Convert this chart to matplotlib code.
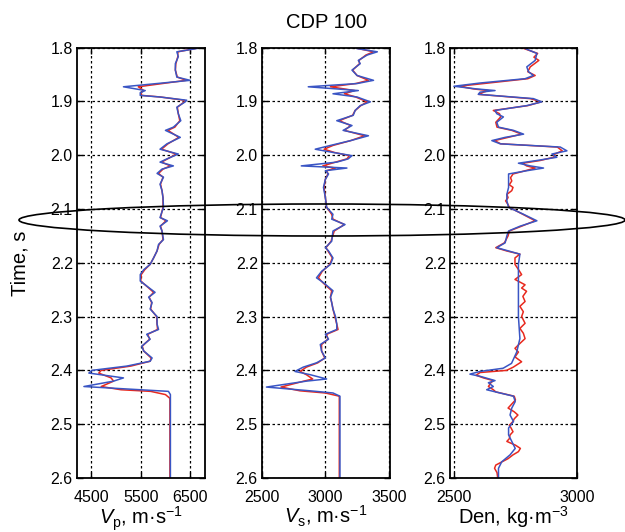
# CDP 100 - log comparison (Vp, Vs, Den)
import matplotlib
matplotlib.use('Agg')
import matplotlib.pyplot as plt
from matplotlib.patches import Ellipse

plt.rcParams['font.family'] = ['Liberation Sans', 'DejaVu Sans']
plt.rcParams['mathtext.fontset'] = 'custom'
plt.rcParams['mathtext.rm'] = 'Liberation Sans'
plt.rcParams['mathtext.it'] = 'Liberation Sans:italic'

# Vp
vp_t = [1.802, 1.808, 1.817, 1.830, 1.842, 1.855, 1.861, 1.873, 1.880, 1.884, 1.889, 1.892,
        1.898, 1.901, 1.911, 1.923, 1.936, 1.948, 1.954, 1.967, 1.979, 1.989, 1.998, 2.007,
        2.013, 2.020, 2.026, 2.034, 2.041, 2.054, 2.066, 2.079, 2.097, 2.116, 2.122, 2.132,
        2.141, 2.157, 2.166, 2.178, 2.191, 2.203, 2.213, 2.222, 2.234, 2.246, 2.255, 2.264,
        2.274, 2.286, 2.300, 2.314, 2.324, 2.333, 2.342, 2.355, 2.364, 2.377, 2.383, 2.392,
        2.400, 2.405, 2.414, 2.420, 2.430, 2.436, 2.439, 2.445, 2.452, 2.600]
vp_blue = [6630, 6230, 6260, 6200, 6200, 6230, 6500, 5150, 5590, 5490, 5490, 5890,
           6430, 6400, 6230, 6260, 6310, 6160, 6000, 6300, 6030, 5890, 6260, 6030,
           5890, 6160, 5930, 5830, 5960, 5890, 5930, 5950, 5960, 5890, 6040, 5890,
           5930, 5960, 5860, 5830, 5760, 5690, 5560, 5490, 5490, 5660, 5790, 5660,
           5730, 5690, 5830, 5830, 5860, 5620, 5690, 5520, 5560, 5730, 5690, 5220,
           4510, 4450, 5150, 4950, 4350, 5490, 6060, 6100, 6100, 6100]
vp_red = [6600, 6250, 6250, 6210, 6200, 6240, 6420, 5450, 5560, 5500, 5520, 5900,
          6380, 6380, 6240, 6260, 6290, 6190, 6050, 6270, 6050, 5920, 6220, 6040,
          5920, 6100, 5950, 5860, 5950, 5900, 5930, 5950, 5950, 5900, 6010, 5900,
          5930, 5950, 5870, 5830, 5760, 5690, 5580, 5510, 5500, 5650, 5760, 5670,
          5720, 5700, 5820, 5830, 5840, 5640, 5680, 5530, 5560, 5710, 5690, 5300,
          4700, 4650, 4900, 4950, 4700, 5100, 5700, 6000, 6090, 6090]

# Vs
vs_t = [1.802, 1.808, 1.814, 1.824, 1.830, 1.842, 1.852, 1.861, 1.867, 1.873, 1.880, 1.886,
        1.892, 1.901, 1.908, 1.917, 1.926, 1.936, 1.945, 1.954, 1.964, 1.973, 1.982, 1.989,
        1.995, 2.001, 2.007, 2.013, 2.020, 2.024, 2.029, 2.035, 2.045, 2.060, 2.079, 2.097,
        2.110, 2.119, 2.129, 2.141, 2.160, 2.172, 2.178, 2.191, 2.203, 2.216, 2.228, 2.237,
        2.252, 2.264, 2.274, 2.286, 2.300, 2.314, 2.324, 2.333, 2.342, 2.352, 2.364, 2.377,
        2.386, 2.394, 2.402, 2.408, 2.416, 2.420, 2.431, 2.438, 2.442, 2.448, 2.600]
vs_blue = [3250, 3410, 3330, 3260, 3275, 3210, 3250, 3380, 3250, 2865, 3260, 3060,
           3250, 3355, 3275, 3235, 3220, 3090, 3210, 3140, 3340, 3200, 3040, 2920,
           3060, 3210, 3180, 3090, 2810, 3170, 3000, 3025, 3000, 2985, 3000, 3010,
           3060, 3050, 3155, 3060, 3050, 3000, 3025, 3060, 3040, 2970, 2930, 2985,
           3060, 3040, 3050, 3060, 3080, 3090, 3090, 3000, 3025, 2960, 2970, 3000,
           2930, 2825, 2760, 2880, 3010, 2850, 2535, 2880, 3060, 3115, 3115]
vs_red = [3260, 3380, 3320, 3265, 3270, 3215, 3250, 3340, 3240, 3040, 3230, 3150,
          3240, 3330, 3280, 3235, 3215, 3110, 3200, 3150, 3310, 3200, 3060, 2990,
          3070, 3190, 3170, 3080, 2980, 3080, 3010, 3020, 3000, 2990, 3000, 3010,
          3050, 3060, 3150, 3070, 3045, 3005, 3020, 3055, 3035, 2975, 2945, 2980,
          3050, 3040, 3050, 3060, 3075, 3090, 3100, 3010, 3020, 2970, 2970, 2995,
          2940, 2850, 2800, 2850, 2900, 2830, 2650, 2800, 3000, 3110, 3110]

# Density
den_t = [1.802, 1.811, 1.824, 1.836, 1.845, 1.852, 1.858, 1.866, 1.872, 1.877, 1.880, 1.883,
         1.887, 1.895, 1.901, 1.908, 1.917, 1.923, 1.929, 1.939, 1.948, 1.954, 1.961, 1.967,
         1.973, 1.979, 1.985, 1.992, 1.998, 2.004, 2.010, 2.015, 2.020, 2.024, 2.029, 2.035,
         2.048, 2.060, 2.073, 2.085, 2.097, 2.110, 2.122, 2.132, 2.141, 2.150, 2.163, 2.172,
         2.184, 2.203, 2.241, 2.272, 2.300, 2.341, 2.366, 2.387, 2.396, 2.402, 2.407, 2.411,
         2.419, 2.423, 2.430, 2.436, 2.439, 2.448, 2.458, 2.470, 2.483, 2.495, 2.507, 2.520,
         2.532, 2.545, 2.557, 2.570, 2.582, 2.600]
den_blue = [2790, 2837, 2830, 2796, 2803, 2823, 2789, 2606, 2500, 2592, 2667, 2606,
            2599, 2823, 2857, 2796, 2667, 2674, 2701, 2674, 2681, 2742, 2783, 2708,
            2654, 2688, 2932, 2959, 2898, 2918, 2837, 2762, 2810, 2864, 2796, 2722,
            2722, 2722, 2715, 2715, 2722, 2783, 2837, 2769, 2722, 2715, 2708, 2674,
            2768, 2762, 2762, 2762, 2762, 2768, 2755, 2734, 2700, 2606, 2565, 2606,
            2667, 2640, 2660, 2633, 2660, 2742, 2749, 2735, 2728, 2742, 2722, 2722,
            2735, 2749, 2728, 2694, 2681, 2681]
den_red_t = [1.802, 1.811, 1.818, 1.824, 1.836, 1.845, 1.852, 1.858, 1.866, 1.872, 1.877, 1.880,
             1.883, 1.887, 1.895, 1.901, 1.908, 1.917, 1.923, 1.929, 1.939, 1.948, 1.954, 1.961,
             1.967, 1.973, 1.979, 1.985, 1.992, 1.998, 2.004, 2.010, 2.015, 2.020, 2.024, 2.029,
             2.035, 2.042, 2.048, 2.055, 2.060, 2.066, 2.073, 2.079, 2.085, 2.092, 2.097, 2.110,
             2.122, 2.132, 2.141, 2.150, 2.163, 2.172, 2.178, 2.184, 2.191, 2.203, 2.2125, 2.222,
             2.231, 2.241, 2.247, 2.253, 2.2625, 2.272, 2.281, 2.291, 2.300, 2.3125, 2.322, 2.331,
             2.341, 2.350, 2.359, 2.366, 2.375, 2.384, 2.394, 2.400, 2.404, 2.409, 2.414, 2.419,
             2.423, 2.430, 2.436, 2.440, 2.448, 2.455, 2.461, 2.470, 2.477, 2.483, 2.490, 2.495,
             2.502, 2.507, 2.514, 2.520, 2.527, 2.532, 2.539, 2.545, 2.551, 2.557, 2.564, 2.570,
             2.576, 2.582, 2.590, 2.600]
den_red = [2785, 2840, 2825, 2845, 2810, 2800, 2830, 2800, 2640, 2520, 2580, 2640,
           2620, 2600, 2810, 2855, 2800, 2660, 2685, 2690, 2670, 2675, 2735, 2775,
           2720, 2665, 2690, 2920, 2940, 2910, 2905, 2850, 2780, 2795, 2830, 2790,
           2740, 2730, 2735, 2725, 2740, 2735, 2715, 2720, 2710, 2720, 2725, 2780,
           2830, 2775, 2725, 2720, 2705, 2670, 2714, 2768, 2748, 2748, 2762, 2775,
           2748, 2789, 2775, 2795, 2780, 2789, 2768, 2782, 2775, 2789, 2768, 2782,
           2789, 2768, 2748, 2762, 2748, 2775, 2741, 2714, 2606, 2590, 2620, 2660,
           2650, 2640, 2660, 2670, 2745, 2750, 2738, 2720, 2745, 2760, 2745, 2740,
           2725, 2732, 2740, 2728, 2725, 2715, 2750, 2770, 2762, 2740, 2720, 2695,
           2670, 2665, 2675, 2678]

y_ticks = [1.8, 1.9, 2.0, 2.1, 2.2, 2.3, 2.4, 2.5, 2.6]

W, H = 625, 532
fig = plt.figure(figsize=(W / 100, H / 100), dpi=100)

def px_axes(left, right, top=47.5, bottom=478):
    return fig.add_axes([left / W, 1 - bottom / H, (right - left) / W, (bottom - top) / H])

ax1 = px_axes(77, 205)
ax2 = px_axes(262, 390)
ax3 = px_axes(450, 577)

red = '#e8291e'
blue = '#3a55c4'

ax1.plot(vp_red, vp_t, color=red, lw=1.1)
ax1.plot(vp_blue, vp_t, color=blue, lw=1.1)
ax2.plot(vs_red, vs_t, color=red, lw=1.1)
ax2.plot(vs_blue, vs_t, color=blue, lw=1.1)
ax3.plot(den_red, den_red_t, color=red, lw=1.1)
ax3.plot(den_blue, den_t, color=blue, lw=1.1)

ax1.set_xlim(4210, 6800)
ax1.set_xticks([4500, 5500, 6500])
ax2.set_xlim(2500, 3510)
ax2.set_xticks([2500, 3000, 3500])
ax3.set_xlim(2484, 3000)
ax3.set_xticks([2500, 3000])

ax1.set_xlabel(r'$V_\mathrm{p}$, m·s$^{-1}$', fontsize=14.5, labelpad=-1)
ax2.set_xlabel(r'$V_\mathrm{s}$, m·s$^{-1}$', fontsize=14.5, labelpad=-1)
ax3.set_xlabel(r'Den, kg·m$^{-3}$', fontsize=14.5, labelpad=-1)

for ax in (ax1, ax2, ax3):
    ax.set_ylim(2.6, 1.8)
    ax.set_yticks(y_ticks)
    ax.set_yticklabels([f'{v:.1f}' for v in y_ticks])
    ax.grid(True, color='black', linestyle=(0, (2, 2)), linewidth=0.9)
    ax.tick_params(direction='in', top=True, right=True, length=4, width=1,
                   labelsize=11.5)
    ax.tick_params(axis='y', pad=3)
    ax.tick_params(axis='x', pad=9)
    for s in ax.spines.values():
        s.set_linewidth(1.3)

fig.text(327 / W, 1 - 22 / H, 'CDP 100', ha='center', va='center', fontsize=14.5)
fig.text(20 / W, 1 - 263 / H, 'Time, s', ha='center', va='center', rotation=90, fontsize=14.5)

fig.add_artist(Ellipse((322 / W, 1 - 220 / H), 606 / W, 32 / H, transform=fig.transFigure,
                       fill=False, edgecolor='black', linewidth=1.2))

fig.savefig('out.png', dpi=100)
